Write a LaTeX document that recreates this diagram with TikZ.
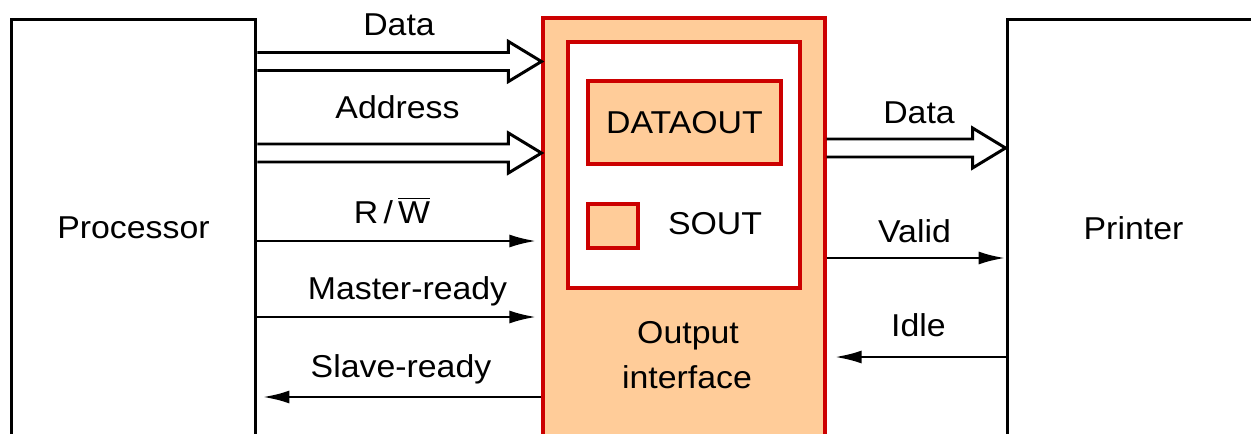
\documentclass[tikz,border=0pt]{standalone}
\usepackage{fontspec}
\setmainfont{Liberation Sans}[FakeStretch=1.07]
\usetikzlibrary{arrows.meta,calc}
\definecolor{ifill}{RGB}{255,204,153}
\definecolor{iline}{RGB}{204,0,0}
\newcommand{\busarrow}[2]{%
  \path (#1) coordinate (bs) (#2) coordinate (bt);
  \draw[bus] ($(bs)+(0,-9)$) -- ($(bt)+(-33,-9)$) -- ($(bt)+(-33,-20)$)
    -- (bt) -- ($(bt)+(-33,20)$) -- ($(bt)+(-33,9)$) -- ($(bs)+(0,9)$);
}

\begin{document}
\begin{tikzpicture}[
      x=0.02cm, y=-0.02cm,
      every node/.style={font=\fontsize{18}{22}\selectfont},
      devbox/.style={draw, line width=1.7pt, minimum height=8.36cm},
      redbox/.style={draw=iline, line width=1.8pt},
      lbl/.style={anchor=base, inner sep=0pt},
      bus/.style={line width=1.7pt, line join=miter},
      sig/.style={line width=1.7pt, -{Latex[length=0.54cm,width=0.26cm]}, shorten >=0.1cm}
    ]
  \useasboundingbox (0,0) rectangle (1251,433);
  \clip (0,0) rectangle (1251,433);

  \node[devbox, minimum width=4.9cm] (proc) at (133.5,228) {Processor};
  \node[devbox, minimum width=5.06cm] (prn) at (1133.5,228) {Printer};

  \node[redbox, fill=ifill, minimum width=5.64cm, minimum height=8.44cm] (out) at (684,229) {};
  \node[redbox, fill=white, minimum width=4.64cm, minimum height=4.92cm] (buf) at (684,165) {};
  \node[redbox, fill=ifill, minimum width=3.86cm, minimum height=1.66cm] (dout) at (684.5,122.5) {DATAOUT};
  \node[redbox, fill=ifill, minimum width=1cm, minimum height=0.88cm] (sout) at (613,226) {};
  \node[lbl] (soutlbl) at (715,234) {SOUT};
  \node[lbl] (outlbl1) at (688,343) {Output};
  \node[lbl] (outlbl2) at (687,388) {interface};

  \busarrow{proc.east |- 0,61.5}{out.west |- 0,61.5}
  \busarrow{proc.east |- 0,153}{out.west |- 0,153}
  \busarrow{out.east |- 0,148}{prn.west |- 0,148}

  \draw[sig] (proc.east |- 0,241) -- (out.west |- 0,241);
  \draw[sig] (proc.east |- 0,317) -- (out.west |- 0,317);
  \draw[sig] (out.west |- 0,397) -- (proc.east |- 0,397);
  \draw[sig, shorten >=0pt] (out.east |- 0,258) -- (prn.west |- 0,258);
  \draw[sig, shorten >=0.16cm] (prn.west |- 0,357) -- (out.east |- 0,357);

  \node[lbl] (ldata) at (399,35) {Data};
  \node[lbl] (laddr) at (397.5,118) {Address};
  \node[lbl] (lrw) at (392,223) {R\,/\,$\overline{\mbox{W}}$};
  \node[lbl] (lmrdy) at (407.5,299) {Master-ready};
  \node[lbl] (lsrdy) at (401,377) {Slave-ready};
  \node[lbl] (rdata) at (919,123) {Data};
  \node[lbl] (rvalid) at (914.5,242) {Valid};
  \node[lbl] (ridle) at (918.5,336) {Idle};
\end{tikzpicture}
\end{document}
